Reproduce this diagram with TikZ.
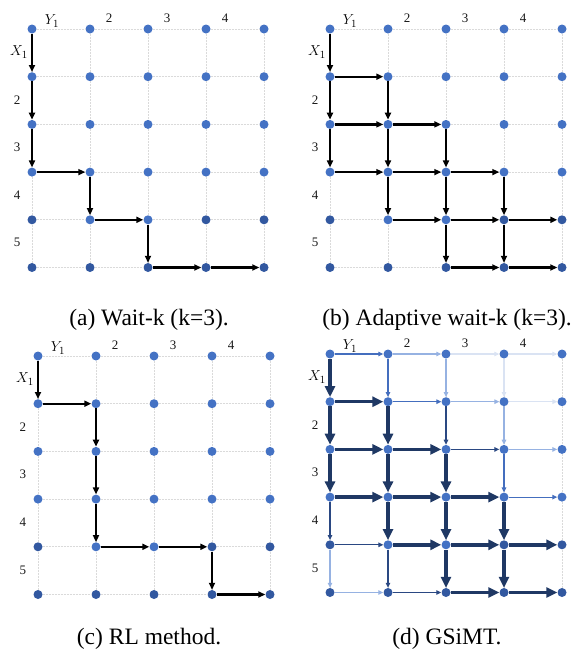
\documentclass[tikz,border=0pt]{standalone}
\usepackage{fontspec}
\setmainfont{Liberation Serif}
\usepackage{xcolor}
\definecolor{dotblue}{RGB}{68,114,196}
\definecolor{dotdeep}{RGB}{50,88,160}
\definecolor{gridgray}{RGB}{218,218,218}
\definecolor{flowthick}{RGB}{31,56,100}
\definecolor{flowdark}{RGB}{42,72,130}
\definecolor{flowmid}{RGB}{68,110,190}
\definecolor{flowlight}{RGB}{150,178,226}
\definecolor{flowpale}{RGB}{218,227,243}
\usetikzlibrary{arrows.meta}

% one 6x5 lattice of dots with its labels
\newcommand{\simgrid}[3]{%
  \foreach \r in {0,...,5} {
    \foreach \c in {0,...,4} {
      \pgfmathtruncatemacro{\deep}{(\r==5)||(\r==4&&\c!=1&&\c!=2)}
      \ifnum\deep=1
        \node[dot,fill=dotdeep] (#1-\r-\c) at ({#2+58*\c},{#3+47.7*\r}) {};
      \else
        \node[dot] (#1-\r-\c) at ({#2+58*\c},{#3+47.7*\r}) {};
      \fi
    }
  }
  \foreach \r in {0,...,5} {
    \foreach \c/\n in {0/1,1/2,2/3,3/4} {
      \draw[gridline] (#1-\r-\c) -- (#1-\r-\n);
    }
  }
  \foreach \c in {0,...,4} {
    \foreach \r/\n in {0/1,1/2,2/3,3/4,4/5} {
      \draw[gridline] (#1-\r-\c) -- (#1-\n-\c);
    }
  }
  \node[mlbl] (#1-y1) at ({#2+20},{#3-8}) {$Y_1$};
  \node[mlbl] (#1-x1) at ({#2-13},{#3+23}) {$X_1$};
  \foreach \k in {2,3,4} {
    \node[lbl] (#1-col\k) at ({#2+58*(\k-1)+19},{#3-11}) {\k};
  }
  \foreach \k in {2,3,4,5} {
    \node[lbl] (#1-row\k) at ({#2-15},{#3+47.7*(\k-1)+23}) {\k};
  }
}

\begin{document}
\begin{tikzpicture}[
    x=1pt,y=-1pt,
    dot/.style={circle,fill=dotblue,inner sep=0pt,minimum size=9pt},
    gridline/.style={gridgray,line width=0.7pt,dash pattern=on 2pt off 1pt},
    lbl/.style={font=\fontsize{13}{15}\selectfont,text=black!90,inner sep=0pt},
    mlbl/.style={font=\fontsize{15.5}{17}\selectfont,inner sep=0pt},
    subcap/.style={font=\fontsize{23.5}{26}\selectfont,inner sep=0pt,anchor=base},
    move/.style={-{Triangle[length=7pt,width=6pt]},line width=2.2pt,black},
    fthick/.style={-{Triangle[length=11pt,width=10pt]},line width=3.4pt,flowthick},
    fthin/.style={-{Triangle[length=5pt,width=4.5pt]},line width=1.2pt,#1}
  ]
  \useasboundingbox (0,0) rectangle (574,651);

  % (a) wait-k
  \simgrid{a}{32}{29}
  \foreach \p/\q in {0-0/1-0,1-0/2-0,2-0/3-0,3-0/3-1,3-1/4-1,
                     4-1/4-2,4-2/5-2,5-2/5-3,5-3/5-4} {
    \draw[move] (a-\p) -- (a-\q);
  }
  \node[subcap] (capa) at (149,325) {(a) Wait-k (k=3).};

  % (b) adaptive wait-k
  \simgrid{b}{330}{29}
  \foreach \p/\q in {0-0/1-0,1-0/1-1,1-0/2-0,1-1/2-1,2-0/2-1,2-1/2-2,
                     2-0/3-0,2-1/3-1,2-2/3-2,3-0/3-1,3-1/3-2,3-2/3-3,
                     3-1/4-1,3-2/4-2,3-3/4-3,4-1/4-2,4-2/4-3,4-3/4-4,
                     4-2/5-2,4-3/5-3,5-2/5-3,5-3/5-4} {
    \draw[move] (b-\p) -- (b-\q);
  }
  \node[subcap] (capb) at (447,325) {(b) Adaptive wait-k (k=3).};

  % (c) RL method
  \simgrid{c}{38}{356}
  \foreach \p/\q in {0-0/1-0,1-0/1-1,1-1/2-1,2-1/3-1,3-1/4-1,
                     4-1/4-2,4-2/4-3,4-3/5-3,5-3/5-4} {
    \draw[move] (c-\p) -- (c-\q);
  }
  \node[subcap] (capc) at (149,644) {(c) RL method.};

  % (d) GSiMT, weights shown by width and shade
  \simgrid{d}{330}{354}
  \foreach \p/\q/\s in {0-2/0-3/flowpale,0-3/0-4/flowpale,1-3/1-4/flowpale,
                        0-3/1-3/flowpale,
                        0-1/0-2/flowlight,1-2/1-3/flowlight,2-3/2-4/flowlight,
                        5-0/5-1/flowlight,0-2/1-2/flowlight,1-3/2-3/flowlight,
                        4-0/5-0/flowlight,
                        0-0/0-1/flowmid,1-1/1-2/flowmid,3-3/3-4/flowmid,
                        0-1/1-1/flowmid,2-3/3-3/flowmid,
                        2-2/2-3/flowdark,4-0/4-1/flowdark,5-1/5-2/flowdark,
                        3-0/4-0/flowdark,4-1/5-1/flowdark,1-2/2-2/flowdark} {
    \draw[fthin=\s] (d-\p) -- (d-\q);
  }
  \foreach \p/\q in {1-0/1-1,2-0/2-1,2-1/2-2,3-0/3-1,3-1/3-2,3-2/3-3,
                     4-1/4-2,4-2/4-3,4-3/4-4,5-2/5-3,5-3/5-4,
                     0-0/1-0,1-0/2-0,2-0/3-0,1-1/2-1,2-1/3-1,3-1/4-1,
                     2-2/3-2,3-2/4-2,4-2/5-2,3-3/4-3,4-3/5-3} {
    \draw[fthick] (d-\p) -- (d-\q);
  }
  \node[subcap] (capd) at (447,644) {(d) GSiMT.};
\end{tikzpicture}
\end{document}
